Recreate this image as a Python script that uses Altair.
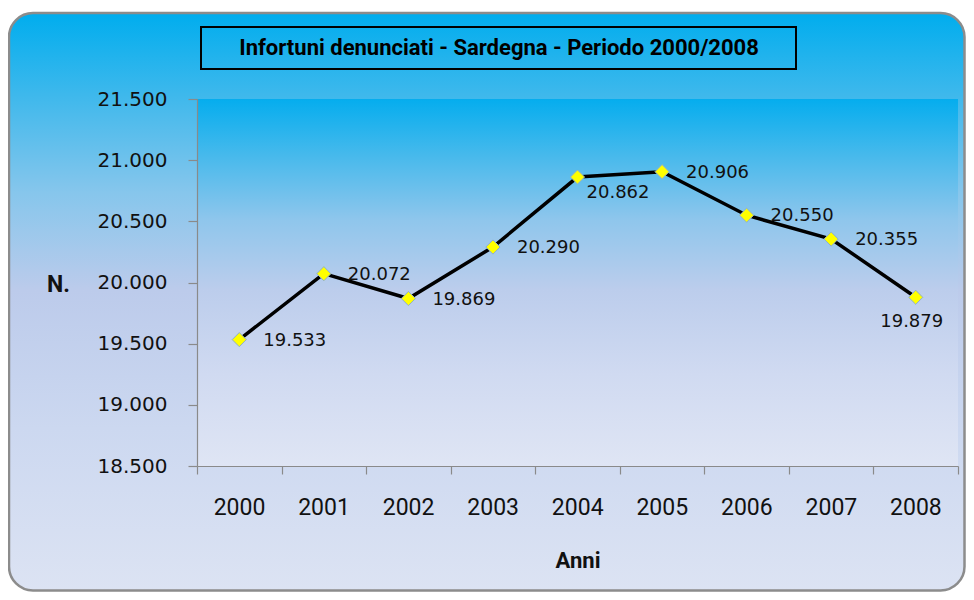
import altair as alt
import pandas as pd

# ---- data ----
years = [2000, 2001, 2002, 2003, 2004, 2005, 2006, 2007, 2008]
infortuni = [19533, 20072, 19869, 20290, 20862, 20906, 20550, 20355, 19879]
y_ticks = [18500, 19000, 19500, 20000, 20500, 21000, 21500]
x_edges = [1999.5, 2000.5, 2001.5, 2002.5, 2003.5, 2004.5, 2005.5, 2006.5, 2007.5, 2008.5]
title_text = "Infortuni denunciati - Sardegna - Periodo 2000/2008"
y_title = "N."
x_title = "Anni"

df = pd.DataFrame({"anno": years, "valore": infortuni})

W, H = 761, 367
PL, PT = 189, 91

x_scale = alt.Scale(domain=[1999.5, 2008.5], nice=False, zero=False)
y_scale = alt.Scale(domain=[18500, 21500], nice=False, zero=False)

x_axis = alt.Axis(
    values=x_edges, title=x_title, tickSize=8, labelOffset=42, zindex=5,
    labelExpr="datum.value < 2008 ? format(datum.value + 0.5, 'd') : ''",
    labelFont="Roboto", labelFontSize=23, labelColor="#111111", labelPadding=22,
    labelFlush=False, labelOverlap=False, grid=False,
    domainColor="#8A8A8A", tickColor="#8A8A8A", domainWidth=1.2, tickWidth=1.2,
    titleFont="Roboto", titleFontSize=22, titleFontWeight="bold", titleColor="#111111",
    titleY=94, titleBaseline="middle",
)
y_axis = alt.Axis(
    values=y_ticks, title=y_title, tickSize=9, zindex=5, grid=False,
    labelExpr="replace(format(datum.value, ','), ',', '.')",
    labelFont="DejaVu Sans", labelFontSize=20, labelColor="#111111", labelPadding=21,
    domainColor="#8A8A8A", tickColor="#8A8A8A", domainWidth=1.2, tickWidth=1.2,
    titleFont="Roboto", titleFontSize=23, titleFontWeight="bold", titleColor="#111111",
    titleAngle=0, titleX=-139, titleY=185, titleAlign="center", titleBaseline="middle",
)

one = alt.Data(values=[{}])

outer_grad = alt.LinearGradient(
    gradient="linear", x1=0, y1=0, x2=0, y2=1,
    stops=[
        alt.GradientStop(color="#00ADEE", offset=0.0),
        alt.GradientStop(color="#3DB8EC", offset=0.14),
        alt.GradientStop(color="#86C6EC", offset=0.31),
        alt.GradientStop(color="#BCCBEB", offset=0.48),
        alt.GradientStop(color="#CCD8F0", offset=0.72),
        alt.GradientStop(color="#DCE3F3", offset=1.0),
    ],
)
plot_grad = alt.LinearGradient(
    gradient="linear", x1=0, y1=0, x2=0, y2=1,
    stops=[
        alt.GradientStop(color="#05ADEE", offset=0.0),
        alt.GradientStop(color="#45B9EC", offset=0.15),
        alt.GradientStop(color="#8FC6EC", offset=0.33),
        alt.GradientStop(color="#BCCDEC", offset=0.52),
        alt.GradientStop(color="#D0DAF1", offset=0.75),
        alt.GradientStop(color="#DFE5F4", offset=1.0),
    ],
)

outer_bg = alt.Chart(one).mark_rect(
    fill=outer_grad, stroke="#8C8C8C", strokeWidth=2.5, cornerRadius=24
).encode(x=alt.value(-188), x2=alt.value(767.5), y=alt.value(-86), y2=alt.value(491.5))

plot_bg = alt.Chart(one).mark_rect(fill=plot_grad).encode(
    x=alt.value(0), x2=alt.value(W), y=alt.value(0), y2=alt.value(H)
)

title_box = alt.Chart(one).mark_rect(
    fill="transparent", stroke="black", strokeWidth=2
).encode(x=alt.value(4), x2=alt.value(599), y=alt.value(-72), y2=alt.value(-30))

title_mark = alt.Chart(one).mark_text(
    font="Roboto", fontSize=22, fontWeight="bold", color="black",
    align="center", baseline="middle"
).encode(x=alt.value(302), y=alt.value(-51), text=alt.value(title_text))

base = alt.Chart(df).encode(
    x=alt.X("anno:Q", scale=x_scale, axis=x_axis),
    y=alt.Y("valore:Q", scale=y_scale, axis=y_axis),
)

line = base.mark_line(color="black", strokeWidth=3.5)
points = base.mark_point(
    shape="diamond", filled=True, fill="#FFFF00", stroke="#8FB0C8",
    strokeWidth=1, size=200, opacity=1
)

lab = base.transform_calculate(lab="replace(format(datum.valore, ','), ',', '.')")
text_kw = dict(font="DejaVu Sans", fontSize=18, color="#111111")
labels_main = lab.transform_filter("datum.anno != 2004 && datum.anno != 2008").mark_text(
    align="left", baseline="middle", dx=24, dy=1, **text_kw
).encode(text="lab:N")
labels_2004 = lab.transform_filter("datum.anno == 2004").mark_text(
    align="left", baseline="middle", dx=9, dy=16, **text_kw
).encode(text="lab:N")
labels_2008 = lab.transform_filter("datum.anno == 2008").mark_text(
    align="center", baseline="middle", dx=-4, dy=25, **text_kw
).encode(text="lab:N")

chart = alt.layer(
    outer_bg, plot_bg, title_box, title_mark, line, points,
    labels_main, labels_2004, labels_2008
).properties(
    width=W, height=H,
    autosize=alt.AutoSizeParams(type="none"),
    padding={"left": PL, "top": PT, "right": 8, "bottom": 126},
).configure_view(
    stroke=None, fill=None
).configure(background="white")

chart.save("out.html", embed_options={"renderer": "svg", "actions": False})
